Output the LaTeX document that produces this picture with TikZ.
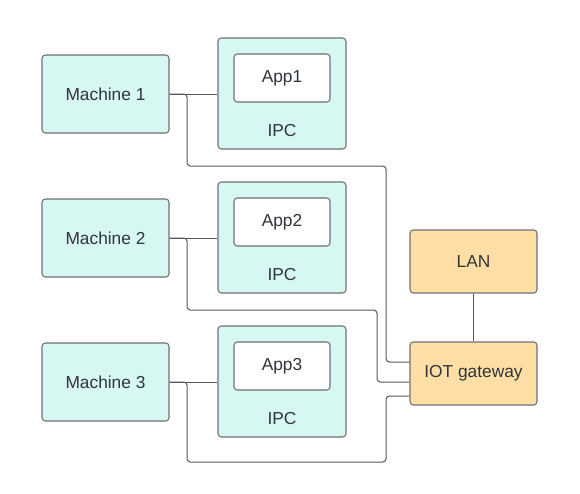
\documentclass[tikz,border=0pt]{standalone}
\usepackage{fontspec}
\setmainfont{Liberation Sans}
\usetikzlibrary{positioning, calc}
\definecolor{tealbox}{HTML}{D7F7F2}
\definecolor{orangebox}{HTML}{FFDFA6}
\definecolor{edgegray}{HTML}{6E7073}
\definecolor{linegray}{HTML}{55585C}
\definecolor{txtgray}{HTML}{2F353B}
\tikzset{
    machine/.style={draw=edgegray, fill=tealbox, rounded corners=2.5pt, line width=0.8pt,
        minimum width=95.25pt, minimum height=58.5pt, text=txtgray, font=\fontsize{13}{15}\selectfont},
    ipcbox/.style={draw=edgegray, fill=tealbox, rounded corners=2.5pt, line width=0.8pt,
        minimum width=96pt, minimum height=83.25pt},
    appbox/.style={draw=edgegray, fill=white, rounded corners=2.5pt, line width=0.8pt,
        minimum width=72pt, minimum height=36pt, text=txtgray, font=\fontsize{13}{15}\selectfont},
    netbox/.style={draw=edgegray, fill=orangebox, rounded corners=2.5pt, line width=0.8pt,
        minimum width=95.25pt, minimum height=47.25pt, text=txtgray, font=\fontsize{13}{15}\selectfont},
    lbl/.style={text=txtgray, font=\fontsize{13}{15}\selectfont},
    link/.style={draw=linegray, line width=0.75pt, rounded corners=2.5pt}
}
\begin{document}
\begin{tikzpicture}[x=0.75pt, y=-0.75pt]
    \useasboundingbox (0,0) rectangle (580,493);
    % machines and their IPCs
    \foreach \i/\y in {1/0, 2/144, 3/288} {
        \node[machine] (m\i) at (105.5, 94+\y) {Machine \i};
        \node[ipcbox] (ipc\i) at (282, 93.5+\y) {};
        \node[appbox] (app\i) at (282, 78+\y) {App\i};
        \node[lbl] (ipclbl\i) at (282, 131+\y) {IPC};
        \draw[link] (m\i.east) -- (m\i.east -| ipc\i.west);
    }
    % network side
    \node[netbox] (lan) at (473.5, 261.5) {LAN};
    \node[netbox] (gw) at (473.5, 373.5) {IOT gateway};
    \draw[link] (lan) -- (gw);
    \coordinate (g1) at (gw.west |- 0,362);
    \coordinate (g2) at (gw.west |- 0,382);
    \coordinate (g3) at (gw.west |- 0,396);
    \draw[link] (m1.east) -- (187,94) -- (187,166) -- (386,166) -- (386,362) -- (g1);
    \draw[link] (m2.east) -- (187,238) -- (187,310) -- (377,310) -- (377,382) -- (g2);
    \draw[link] (m3.east) -- (187,382) -- (187,462) -- (386,462) -- (386,396) -- (g3);
\end{tikzpicture}
\end{document}
